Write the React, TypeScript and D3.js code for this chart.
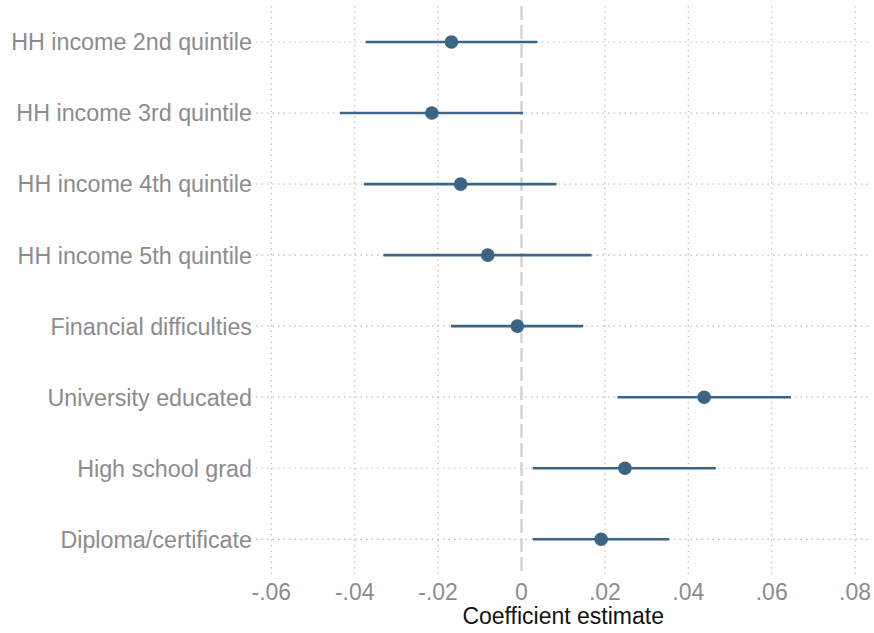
import React from "react";
import * as d3 from "d3";

const categories = [
  "HH income 2nd quintile",
  "HH income 3rd quintile",
  "HH income 4th quintile",
  "HH income 5th quintile",
  "Financial difficulties",
  "University educated",
  "High school grad",
  "Diploma/certificate",
];
const estimates = [-0.0168, -0.0215, -0.0146, -0.0081, -0.001, 0.0438, 0.0248, 0.0191];
const lower = [-0.0374, -0.0435, -0.0378, -0.0331, -0.0169, 0.023, 0.0027, 0.0027];
const upper = [0.0038, 0.0004, 0.0084, 0.0168, 0.0148, 0.0646, 0.0466, 0.0354];
const xTicks = [-0.06, -0.04, -0.02, 0, 0.02, 0.04, 0.06, 0.08];
const xTickLabels = ["-.06", "-.04", "-.02", "0", ".02", ".04", ".06", ".08"];
const xTitle = "Coefficient estimate";

const W = 874;
const H = 633;
const FONT = "'Liberation Sans', Arial, sans-serif";
const MARK = "#3d6482";
const TEXT = "#8c8c8c";

export default function App() {
  const x = d3.scaleLinear().domain([-0.06, 0.08]).range([271.3, 855.1]);
  const y = d3
    .scalePoint<string>()
    .domain(categories)
    .range([42, 539.3]);
  const top = 6;
  const bottom = 574;

  return (
    <svg
      width={W}
      height={H}
      style={{ position: "absolute", left: 0, top: 0, background: "#fff" }}
      fontFamily={FONT}
    >
      {/* vertical grid */}
      {xTicks.map((t) =>
        t === 0 ? null : (
          <line
            key={"vg" + t}
            x1={x(t)}
            x2={x(t)}
            y1={top}
            y2={bottom}
            stroke="#bdbdbd"
            strokeWidth={1.2}
            strokeDasharray="1.5,4"
          />
        )
      )}
      {/* horizontal grid */}
      {categories.map((c) => (
        <line
          key={"hg" + c}
          x1={256}
          x2={870}
          y1={y(c)}
          y2={y(c)}
          stroke="#bdbdbd"
          strokeWidth={1.2}
          strokeDasharray="1.5,4"
        />
      ))}
      {/* zero line */}
      <line
        x1={x(0)}
        x2={x(0)}
        y1={top}
        y2={bottom}
        stroke="#d4d4d4"
        strokeWidth={2.5}
        strokeDasharray="14,5"
      />
      {/* CIs */}
      {categories.map((c, i) => (
        <line
          key={"ci" + c}
          x1={x(lower[i])}
          x2={x(upper[i])}
          y1={y(c)}
          y2={y(c)}
          stroke={MARK}
          strokeWidth={2.6}
        />
      ))}
      {categories.map((c, i) => (
        <circle key={"pt" + c} cx={x(estimates[i])} cy={y(c)} r={6.8} fill={MARK} />
      ))}
      {/* y labels */}
      {categories.map((c) => (
        <text
          key={"yl" + c}
          x={252}
          y={(y(c) as number) + 8.4}
          textAnchor="end"
          fontSize={23.3}
          fill={TEXT}
        >
          {c}
        </text>
      ))}
      {/* x tick labels */}
      {xTicks.map((t, i) => (
        <text key={"xl" + t} x={x(t)} y={600} textAnchor="middle" fontSize={23} fill={TEXT}>
          {xTickLabels[i]}
        </text>
      ))}
      <text x={x(0.01)} y={623.5} textAnchor="middle" fontSize={23} fill="#111">
        {xTitle}
      </text>
    </svg>
  );
}
